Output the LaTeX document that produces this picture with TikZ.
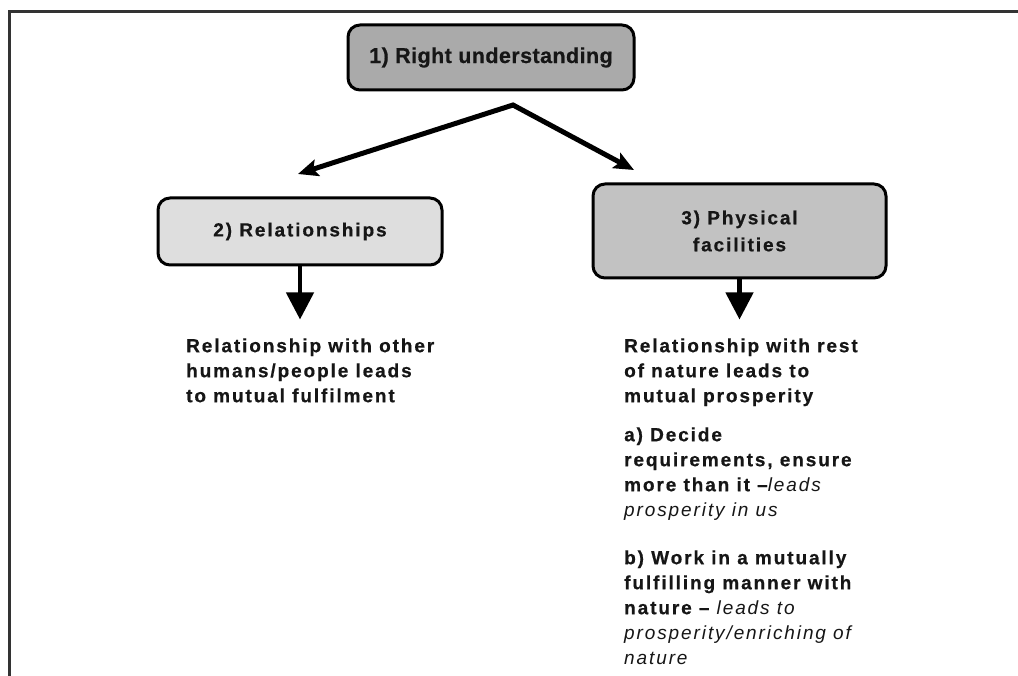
\documentclass[tikz,border=0pt]{standalone}
\usepackage{fontspec}
\setmainfont{Liberation Sans}
\newfontfamily\bodyfont[LetterSpace=10,BoldFeatures={FakeBold=0.6}]{Liberation Sans}
\newfontfamily\headfont[LetterSpace=2,BoldFeatures={FakeBold=0.6}]{Liberation Sans}
\usetikzlibrary{arrows.meta}

\definecolor{ink}{HTML}{161616}
\definecolor{frameline}{HTML}{333333}
\definecolor{fillone}{HTML}{AAAAAA}
\definecolor{filltwo}{HTML}{DEDEDE}
\definecolor{fillthree}{HTML}{C2C2C2}

\newcommand{\leadtext}[1]{{\mdseries\itshape #1}}

\tikzset{
  box/.style={draw=black, line width=3pt, rounded corners=12pt, inner sep=0pt,
    align=center, text=ink},
  boxfont/.style={font=\bodyfont\bfseries\fontsize{19}{27}\selectfont},
  bodytext/.style={anchor=north west, inner sep=0pt, align=left, text=ink,
    font=\bodyfont\bfseries\fontsize{19}{25}\selectfont},
  split/.style={line width=5pt, line join=miter, draw=black,
    {Stealth[length=20pt,width=17pt,inset=4pt]}-{Stealth[length=20pt,width=17pt,inset=4pt]}},
  down/.style={line width=4.5pt, draw=black,
    -{Triangle[length=27pt,width=27pt]}}
}

\begin{document}
\begin{tikzpicture}[x=1pt,y=-1pt]
  \useasboundingbox (0,0) rectangle (1018,676);
  \fill[white] (0,0) rectangle (1018,676);

  % outer frame: only top and left edges
  \draw[frameline, line width=3pt] (1020,12) -- (9.5,12) -- (9.5,680);

  % boxes
  \node[box, fill=fillone, minimum width=286pt, minimum height=65pt,
        font=\headfont\bfseries\fontsize{21.5}{26}\selectfont]
        (under) at (491,57.5) {1) Right understanding};
  \node[box, boxfont, fill=filltwo, minimum width=284pt, minimum height=67pt]
        (rel) at (300,231.5) {2) Relationships};
  \node[box, boxfont, fill=fillthree, minimum width=293pt, minimum height=94pt]
        (phys) at (739.5,231) {3) Physical\\facilities};

  % split arrows below the first box
  \coordinate (apex) at (513,105);
  \coordinate (ltip) at (298,174);
  \coordinate (rtip) at (634,170);
  \draw[split] (ltip) -- (apex) -- (rtip);

  % descriptive texts
  \node[bodytext] (reltext) at (186,334.5)
    {\strut Relationship with other\\humans/people leads\\to mutual fulfilment};
  \node[bodytext] (nattext) at (624,334.5)
    {\strut Relationship with rest\\of nature leads to\\mutual prosperity};
  \node[bodytext] (reqtext) at (624,423.5)
    {\strut a) Decide\\requirements, ensure\\more than it –\leadtext{leads}\\\leadtext{prosperity in us}};
  \node[bodytext] (worktext) at (624,546.5)
    {\strut b) Work in a mutually\\fulfilling manner with\\nature – \leadtext{leads to}\\\leadtext{prosperity/enriching of}\\\leadtext{nature}};

  % downward arrows
  \coordinate (reltip) at ([yshift=-53pt]rel.south);
  \coordinate (phystip) at ([yshift=-40pt]phys.south);
  \draw[down] (rel.south) -- (reltip);
  \draw[down] (phys.south) -- (phystip);
\end{tikzpicture}
\end{document}
